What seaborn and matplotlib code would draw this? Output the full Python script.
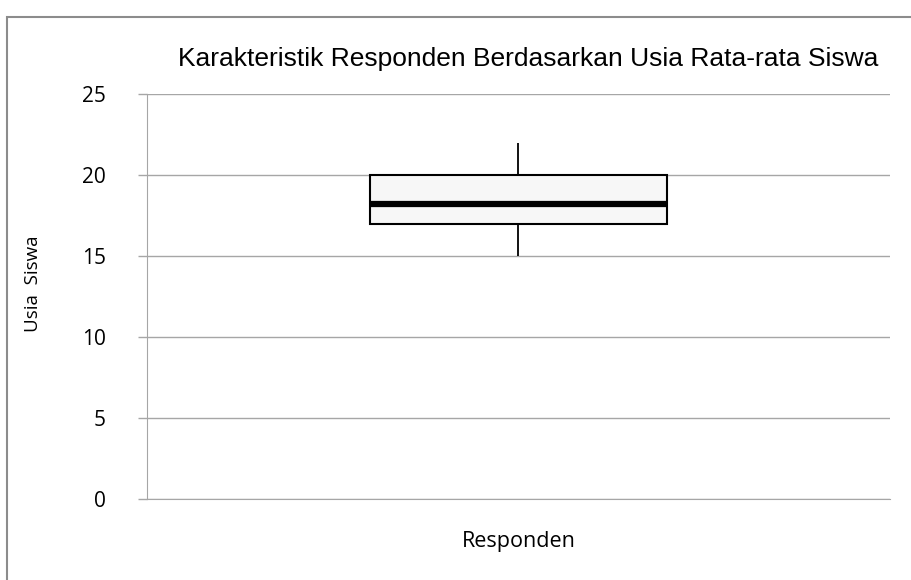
import numpy as np
import pandas as pd
import matplotlib.pyplot as plt
import seaborn as sns
from matplotlib.patches import Rectangle

# five-number summary (min, Q1, median, Q3, max)
usia = [15, 17, 18.2, 20, 22]
kelompok = ['Responden'] * len(usia)
yticks = [0, 5, 10, 15, 20, 25]

df = pd.DataFrame({'kelompok': kelompok, 'usia': usia})

sns.set_style('white')
plt.rcParams['font.family'] = ['Open Sans', 'DejaVu Sans']
plt.rcParams['text.color'] = 'black'
plt.rcParams['axes.labelcolor'] = 'black'
plt.rcParams['ytick.labelcolor'] = 'black'

fig = plt.figure(figsize=(9.12, 5.8), dpi=100)
ax = fig.add_axes([0.161, 0.140, 0.815, 0.698])

sns.boxplot(data=df, x='kelompok', y='usia', ax=ax, width=0.4, whis=3,
            color='#f7f7f7', linecolor='black', linewidth=1.5,
            showcaps=False,
            medianprops={'color': 'black', 'linewidth': 4.5},
            whiskerprops={'color': 'black', 'linewidth': 1.3},
            boxprops={'facecolor': '#f7f7f7', 'edgecolor': 'black'},
            zorder=3)

ax.set_ylim(0, 25)
ax.set_xlim(-0.5, 0.5)
ax.set_yticks(yticks)
ax.set_yticklabels([str(t) for t in yticks], fontsize=15)
ax.set_xticks([])
ax.yaxis.grid(True, color='#a6a6a6', linewidth=1)
ax.set_axisbelow(True)

for s in ['top', 'right']:
    ax.spines[s].set_visible(False)
ax.spines['left'].set_color('#a6a6a6')
ax.spines['bottom'].set_color('#a6a6a6')
ax.tick_params(axis='y', left=True, direction='out', length=6.5,
               color='#a6a6a6', width=1, pad=23)

ax.set_xlabel('Responden', fontsize=15.5, labelpad=23)
ax.set_ylabel('Usia  Siswa', fontsize=13.5, labelpad=29, y=0.53)
ax.set_title('Karakteristik Responden Berdasarkan Usia Rata-rata Siswa',
             fontsize=19, family=['Liberation Sans', 'DejaVu Sans'],
             pad=20, x=0.513)

# outer chart frame
fig.patches.append(Rectangle((7 / 912, -0.1), 1.1, 1 - 17 / 580 + 0.1,
                             transform=fig.transFigure, fill=False,
                             edgecolor='#8c8c8c', linewidth=1.5))

fig.savefig('out.png', dpi=100)
